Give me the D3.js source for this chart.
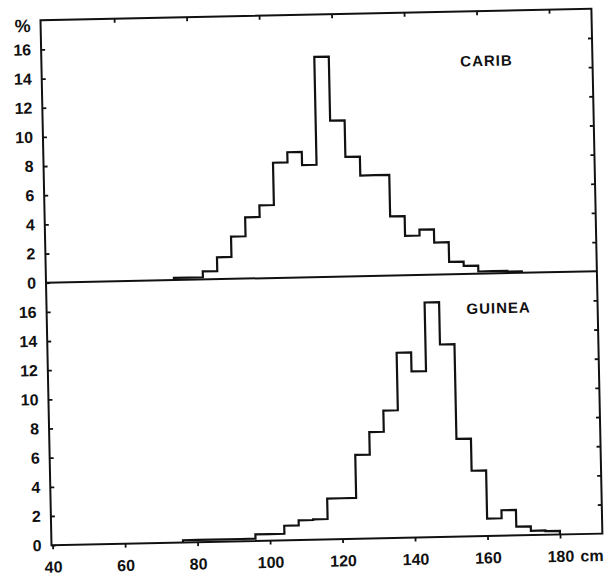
<!DOCTYPE html>
<html>
<head>
<meta charset="utf-8">
<script src="https://d3js.org/d3.v7.min.js"></script>
<style>
    body { margin: 0; background: #fff; }
    text { font-family: "Liberation Sans", Arial, sans-serif; font-weight: bold; fill: #111; }
</style>
</head>
<body>
<div id="main"></div>
<script>
const ctx = {
    w: 606,
    h: 578,
    left: 46,
    right: 597,
    top: 14.5,
    mid: 277,
    bottom: 539.5,
    // the scanned figure is slightly tilted
    tilt: -1.2
};

// lower bound of each 4 cm height class, and % of children in it
const binWidth = 4;
const caribBins = [75, 79, 83, 87, 91, 95, 99, 103, 107, 111, 115, 119,
    123, 127, 131, 135, 139, 143, 147, 151, 155, 159, 163, 167];
const caribPct = [0.15, 0.15, 0.55, 1.5, 2.9, 4.2, 5.0, 7.9, 8.6, 7.7, 15.1, 10.7,
    8.2, 6.9, 6.9, 4.05, 2.7, 3.1, 2.2, 0.85, 0.55, 0.15, 0.15, 0.1];
const guineaBins = [76, 80, 84, 88, 92, 96, 100, 104, 108, 112, 116, 120, 124,
    128, 132, 136, 140, 144, 148, 152, 156, 160, 164, 168, 172, 176];
const guineaPct = [0.15, 0.15, 0.15, 0.15, 0.15, 0.45, 0.45, 1.0, 1.35, 1.4, 2.8, 2.8, 5.75,
    7.3, 8.75, 12.7, 11.4, 16.1, 13.2, 6.7, 4.5, 1.2, 1.75, 0.6, 0.3, 0.25];

const xTicks = [40, 60, 80, 100, 120, 140, 160, 180];
const yTicks = [0, 2, 4, 6, 8, 10, 12, 14, 16];
const panelNames = ["CARIB", "GUINEA"];

// turn bins into the corner points of a step outline
function stepPoints(bins, pct) {
    let pts = [[bins[0], 0]];
    bins.forEach((b, i) => {
        pts.push([b, pct[i]]);
        pts.push([b + binWidth, pct[i]]);
    });
    pts.push([bins[bins.length - 1] + binWidth, 0]);
    return pts;
}

function drawPanel(rootG, bins, pct, name, y0, y1, isLast) {
    let x = ctx.xScale;
    let y = d3.scaleLinear().domain([0, 18]).range([y1, y0]);
    let g = rootG.append("g");

    // left axis: labels outside, ticks pointing in
    let leftAx = g.append("g")
        .attr("transform", `translate(${ctx.left},0)`)
        .call(d3.axisLeft(y).tickValues(yTicks).tickSize(-4).tickPadding(10));
    leftAx.select(".domain").remove();
    leftAx.selectAll("line").attr("stroke", "#111").attr("stroke-width", 1.8);
    leftAx.selectAll("text").style("font-size", "16px").attr("fill", "#111");

    // right side ticks, no labels
    let rightAx = g.append("g")
        .attr("transform", `translate(${ctx.right},0)`)
        .call(d3.axisRight(y).tickValues(yTicks.slice(1)).tickSize(-4).tickFormat(""));
    rightAx.select(".domain").remove();
    rightAx.selectAll("line").attr("stroke", "#111").attr("stroke-width", 1.8);

    if (!isLast) {
        let topAx = g.append("g")
            .attr("transform", `translate(0,${y0})`)
            .call(d3.axisTop(x).tickValues(xTicks.slice(1)).tickSize(-4).tickFormat(""));
        topAx.select(".domain").remove();
        topAx.selectAll("line").attr("stroke", "#111").attr("stroke-width", 1.8);
    } else {
        let botAx = g.append("g")
            .attr("transform", `translate(0,${y1})`)
            .call(d3.axisBottom(x).tickValues(xTicks).tickSize(4).tickPadding(12));
        botAx.select(".domain").remove();
        botAx.selectAll("line").attr("stroke", "#111").attr("stroke-width", 1.8);
        botAx.selectAll("text").style("font-size", "16px").attr("fill", "#111");
        botAx.append("text")
            .attr("x", x(180) + 20)
            .attr("y", 16)
            .attr("dy", "0.71em")
            .attr("text-anchor", "start")
            .style("font-size", "16px")
            .attr("fill", "#111")
            .text("cm");
    }

    // histogram outline
    let line = d3.line()
        .x((d) => x(d[0]))
        .y((d) => y(d[1]));
    g.append("path")
        .datum(stepPoints(bins, pct))
        .attr("fill", "none")
        .attr("stroke", "#111")
        .attr("stroke-width", 2.2)
        .attr("stroke-linejoin", "miter")
        .attr("d", line);

    // panel name
    g.append("text")
        .attr("x", isLast ? 498 : 491)
        .attr("y", isLast ? y0 + 40 : y0 + 55)
        .attr("text-anchor", "middle")
        .style("font-size", "15px")
        .style("letter-spacing", "1px")
        .text(name);
}

function createViz() {
    let svgEl = d3.select("#main").append("svg")
        .attr("width", ctx.w)
        .attr("height", ctx.h);
    let rootG = svgEl.append("g")
        .attr("id", "rootG")
        .attr("transform", `rotate(${ctx.tilt},320,280)`);

    ctx.xScale = d3.scaleLinear().domain([39.7, 191.7]).range([ctx.left, ctx.right]);

    drawPanel(rootG, caribBins, caribPct, panelNames[0], ctx.top, ctx.mid, false);
    drawPanel(rootG, guineaBins, guineaPct, panelNames[1], ctx.mid, ctx.bottom, true);

    // frame: outer box plus the shared middle line
    let frameG = rootG.append("g")
        .attr("fill", "none")
        .attr("stroke", "#111")
        .attr("stroke-width", 2);
    frameG.append("rect")
        .attr("x", ctx.left)
        .attr("y", ctx.top)
        .attr("width", ctx.right - ctx.left)
        .attr("height", ctx.bottom - ctx.top);
    frameG.append("line")
        .attr("x1", ctx.left).attr("x2", ctx.right)
        .attr("y1", ctx.mid).attr("y2", ctx.mid);

    rootG.append("text")
        .attr("x", 28)
        .attr("y", 26)
        .attr("text-anchor", "middle")
        .style("font-size", "18px")
        .text("%");
}

createViz();
</script>
</body>
</html>
